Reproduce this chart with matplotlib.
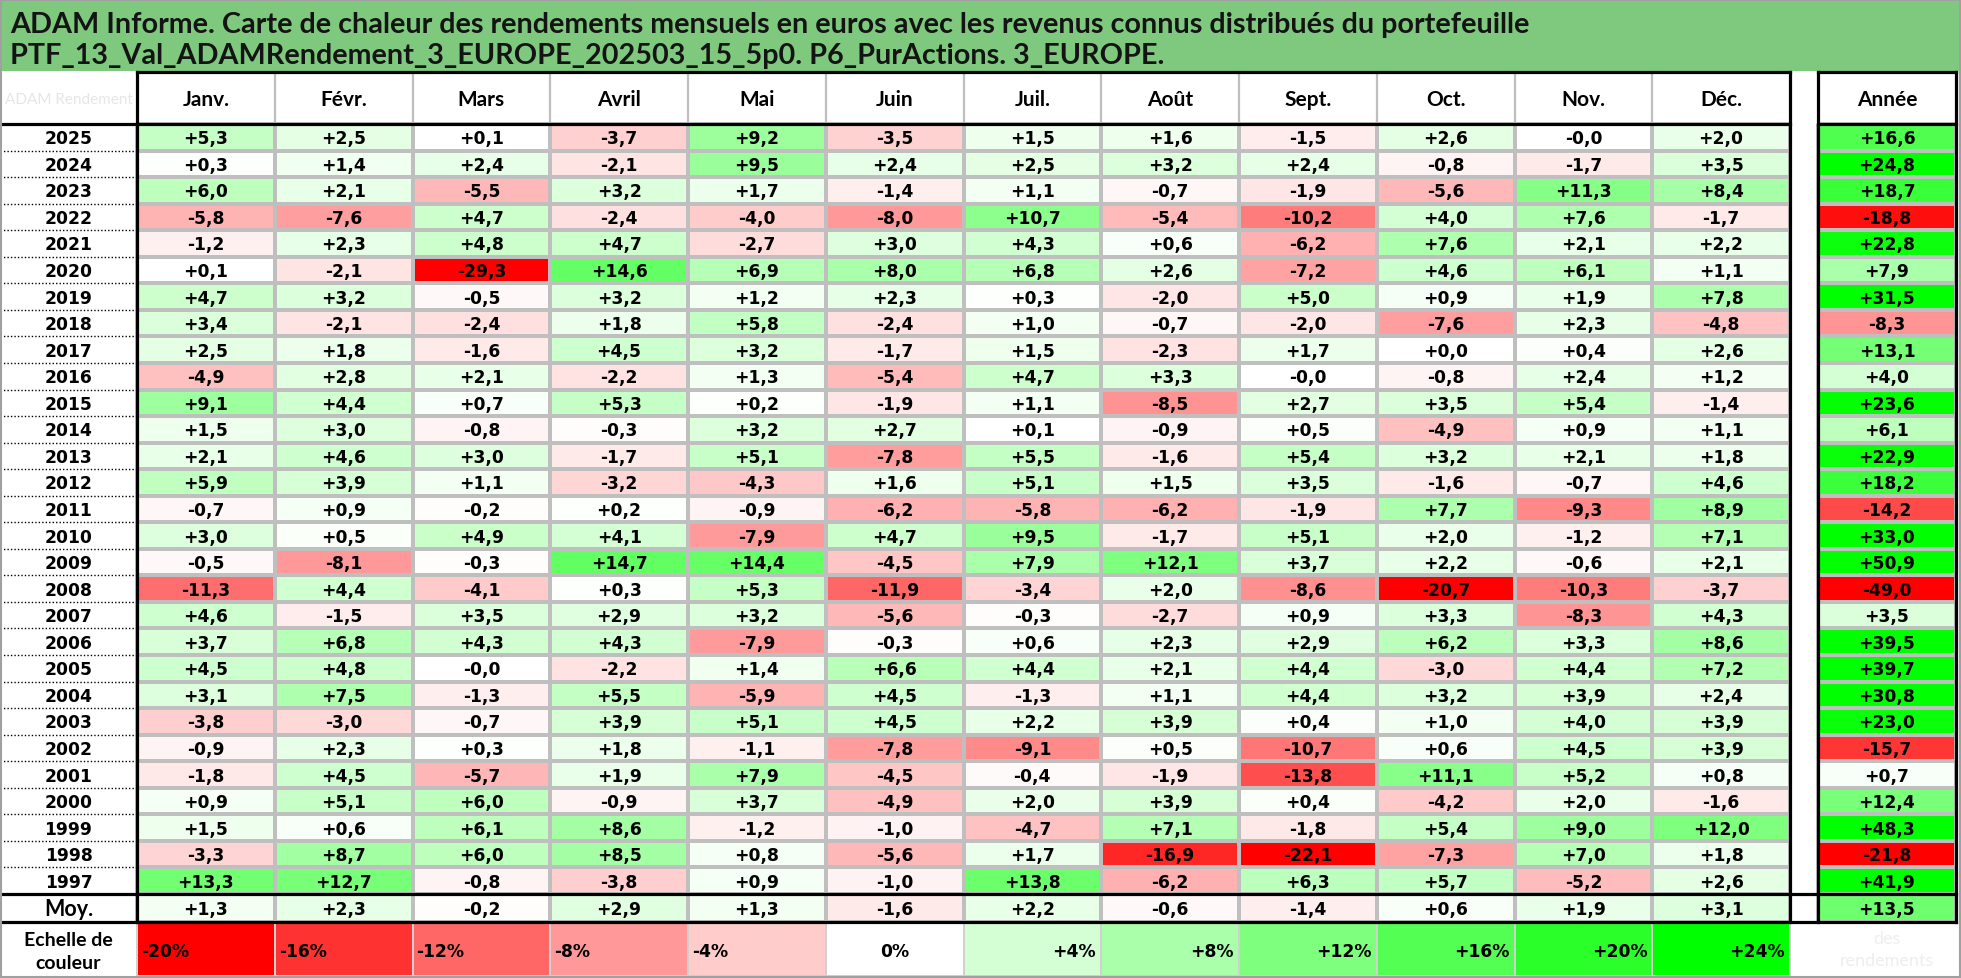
import numpy as np
import matplotlib
matplotlib.use("Agg")
import matplotlib.pyplot as plt
from matplotlib.colors import LinearSegmentedColormap, TwoSlopeNorm
from matplotlib.patches import Rectangle

# ---------------- data ----------------
title_line1 = ("ADAM Informe. Carte de chaleur des rendements mensuels en euros avec "
               "les revenus connus distribués du portefeuille")
title_line2 = "PTF_13_Val_ADAMRendement_3_EUROPE_202503_15_5p0. P6_PurActions. 3_EUROPE."
months = ["Janv.", "Févr.", "Mars", "Avril", "Mai", "Juin", "Juil.", "Août",
          "Sept.", "Oct.", "Nov.", "Déc."]
years = [2025, 2024, 2023, 2022, 2021, 2020, 2019, 2018, 2017, 2016, 2015, 2014,
         2013, 2012, 2011, 2010, 2009, 2008, 2007, 2006, 2005, 2004, 2003, 2002,
         2001, 2000, 1999, 1998, 1997]

y2025 = [5.3, 2.5, 0.1, -3.7, 9.2, -3.5, 1.5, 1.6, -1.5, 2.6, -0.0, 2.0]
y2024 = [0.3, 1.4, 2.4, -2.1, 9.5, 2.4, 2.5, 3.2, 2.4, -0.8, -1.7, 3.5]
y2023 = [6.0, 2.1, -5.5, 3.2, 1.7, -1.4, 1.1, -0.7, -1.9, -5.6, 11.3, 8.4]
y2022 = [-5.8, -7.6, 4.7, -2.4, -4.0, -8.0, 10.7, -5.4, -10.2, 4.0, 7.6, -1.7]
y2021 = [-1.2, 2.3, 4.8, 4.7, -2.7, 3.0, 4.3, 0.6, -6.2, 7.6, 2.1, 2.2]
y2020 = [0.1, -2.1, -29.3, 14.6, 6.9, 8.0, 6.8, 2.6, -7.2, 4.6, 6.1, 1.1]
y2019 = [4.7, 3.2, -0.5, 3.2, 1.2, 2.3, 0.3, -2.0, 5.0, 0.9, 1.9, 7.8]
y2018 = [3.4, -2.1, -2.4, 1.8, 5.8, -2.4, 1.0, -0.7, -2.0, -7.6, 2.3, -4.8]
y2017 = [2.5, 1.8, -1.6, 4.5, 3.2, -1.7, 1.5, -2.3, 1.7, 0.0, 0.4, 2.6]
y2016 = [-4.9, 2.8, 2.1, -2.2, 1.3, -5.4, 4.7, 3.3, -0.0, -0.8, 2.4, 1.2]
y2015 = [9.1, 4.4, 0.7, 5.3, 0.2, -1.9, 1.1, -8.5, 2.7, 3.5, 5.4, -1.4]
y2014 = [1.5, 3.0, -0.8, -0.3, 3.2, 2.7, 0.1, -0.9, 0.5, -4.9, 0.9, 1.1]
y2013 = [2.1, 4.6, 3.0, -1.7, 5.1, -7.8, 5.5, -1.6, 5.4, 3.2, 2.1, 1.8]
y2012 = [5.9, 3.9, 1.1, -3.2, -4.3, 1.6, 5.1, 1.5, 3.5, -1.6, -0.7, 4.6]
y2011 = [-0.7, 0.9, -0.2, 0.2, -0.9, -6.2, -5.8, -6.2, -1.9, 7.7, -9.3, 8.9]
y2010 = [3.0, 0.5, 4.9, 4.1, -7.9, 4.7, 9.5, -1.7, 5.1, 2.0, -1.2, 7.1]
y2009 = [-0.5, -8.1, -0.3, 14.7, 14.4, -4.5, 7.9, 12.1, 3.7, 2.2, -0.6, 2.1]
y2008 = [-11.3, 4.4, -4.1, 0.3, 5.3, -11.9, -3.4, 2.0, -8.6, -20.7, -10.3, -3.7]
y2007 = [4.6, -1.5, 3.5, 2.9, 3.2, -5.6, -0.3, -2.7, 0.9, 3.3, -8.3, 4.3]
y2006 = [3.7, 6.8, 4.3, 4.3, -7.9, -0.3, 0.6, 2.3, 2.9, 6.2, 3.3, 8.6]
y2005 = [4.5, 4.8, -0.0, -2.2, 1.4, 6.6, 4.4, 2.1, 4.4, -3.0, 4.4, 7.2]
y2004 = [3.1, 7.5, -1.3, 5.5, -5.9, 4.5, -1.3, 1.1, 4.4, 3.2, 3.9, 2.4]
y2003 = [-3.8, -3.0, -0.7, 3.9, 5.1, 4.5, 2.2, 3.9, 0.4, 1.0, 4.0, 3.9]
y2002 = [-0.9, 2.3, 0.3, 1.8, -1.1, -7.8, -9.1, 0.5, -10.7, 0.6, 4.5, 3.9]
y2001 = [-1.8, 4.5, -5.7, 1.9, 7.9, -4.5, -0.4, -1.9, -13.8, 11.1, 5.2, 0.8]
y2000 = [0.9, 5.1, 6.0, -0.9, 3.7, -4.9, 2.0, 3.9, 0.4, -4.2, 2.0, -1.6]
y1999 = [1.5, 0.6, 6.1, 8.6, -1.2, -1.0, -4.7, 7.1, -1.8, 5.4, 9.0, 12.0]
y1998 = [-3.3, 8.7, 6.0, 8.5, 0.8, -5.6, 1.7, -16.9, -22.1, -7.3, 7.0, 1.8]
y1997 = [13.3, 12.7, -0.8, -3.8, 0.9, -1.0, 13.8, -6.2, 6.3, 5.7, -5.2, 2.6]

annual = [16.6, 24.8, 18.7, -18.8, 22.8, 7.9, 31.5, -8.3, 13.1, 4.0, 23.6, 6.1,
          22.9, 18.2, -14.2, 33.0, 50.9, -49.0, 3.5, 39.5, 39.7, 30.8, 23.0, -15.7,
          0.7, 12.4, 48.3, -21.8, 41.9]
moy_monthly = [1.3, 2.3, -0.2, 2.9, 1.3, -1.6, 2.2, -0.6, -1.4, 0.6, 1.9, 3.1]
moy_annual = 13.5
scale_values = [-20, -16, -12, -8, -4, 0, 4, 8, 12, 16, 20, 24]

monthly_rows = [y2025, y2024, y2023, y2022, y2021, y2020, y2019, y2018, y2017,
                y2016, y2015, y2014, y2013, y2012, y2011, y2010, y2009, y2008,
                y2007, y2006, y2005, y2004, y2003, y2002, y2001, y2000, y1999,
                y1998, y1997]

# ---------------- layout ----------------
W, H = 1961, 979
TITLE_H = 72
HDR_TOP, HDR_BOT = 73, 125
MOY_TOP, MOY_BOT = 895, 923
SCALE_BOT = 977
X_YEAR_R = 137
X_DEC_R = 1790
X_ANN_L, X_ANN_R = 1818, 1956
n_rows = len(years)
ROW_H = (MOY_TOP - HDR_BOT) / n_rows
COL_W = (X_DEC_R - X_YEAR_R) / 12

NUM_FONT = "DejaVu Sans"
LBL_FONT = "Lato"
NUM_FS = 12.3
GRID = "#BFBFBF"
THICK = 2.3

cmap = LinearSegmentedColormap.from_list("rg", ["#FF0000", "#FFFFFF", "#00FF00"])
norm = TwoSlopeNorm(vmin=-20, vcenter=0, vmax=24)


def fmt(v):
    return f"{v:+.1f}".replace(".", ",")


fig = plt.figure(figsize=(W / 100, H / 100), dpi=100)
ax = fig.add_axes([0, 0, 1, 1])
ax.set_xlim(0, W)
ax.set_ylim(H, 0)
ax.axis("off")

# title band
ax.add_patch(Rectangle((0, 0), W, TITLE_H, facecolor="#7FC97F", edgecolor="none", zorder=0))
t1 = ax.text(10, 25, title_line1, fontfamily=LBL_FONT, fontweight="bold",
             fontsize=18, va="center", ha="left", color="#141414")
t2 = ax.text(10, 56, title_line2, fontfamily=LBL_FONT, fontweight="bold",
             fontsize=18, va="center", ha="left", color="#141414")
fig.canvas.draw()
r = fig.canvas.get_renderer()
w = t1.get_window_extent(r).width
fs = 18 * (1523 / w)
t1.set_fontsize(fs)
t2.set_fontsize(fs)

# heat map cells (months + Moy)
data = np.array(monthly_rows + [moy_monthly], dtype=float)
x_edges = X_YEAR_R + COL_W * np.arange(13)
y_edges = np.append(HDR_BOT + ROW_H * np.arange(n_rows + 1), MOY_BOT)
ax.pcolormesh(x_edges, y_edges, data, cmap=cmap, norm=norm,
              edgecolors=GRID, linewidth=1.6, zorder=1)

ann = np.array(annual + [moy_annual], dtype=float).reshape(-1, 1)
ax.pcolormesh([X_ANN_L, X_ANN_R], y_edges, ann, cmap=cmap, norm=norm,
              edgecolors=GRID, linewidth=1.6, zorder=1)

# colour scale row
ax.pcolormesh(x_edges, [MOY_BOT, SCALE_BOT], np.array([scale_values], dtype=float),
              cmap=cmap, norm=norm, edgecolors="#D0D0D0", linewidth=1.2, zorder=1)

# header grid lines
for xe in x_edges[1:-1]:
    ax.plot([xe, xe], [HDR_TOP, HDR_BOT], color=GRID, lw=1.6, zorder=2)

# cell texts
yc = (y_edges[:-1] + y_edges[1:]) / 2
xc = (x_edges[:-1] + x_edges[1:]) / 2
for i in range(data.shape[0]):
    for j in range(12):
        ax.text(xc[j], yc[i] + 1, fmt(data[i, j]), ha="center", va="center",
                fontfamily=NUM_FONT, fontweight="bold", fontsize=NUM_FS, zorder=3)
    ax.text((X_ANN_L + X_ANN_R) / 2, yc[i] + 1, fmt(ann[i, 0]), ha="center",
            va="center", fontfamily=NUM_FONT, fontweight="bold", fontsize=NUM_FS, zorder=3)

# year labels
for i, yr in enumerate(years):
    ax.text(X_YEAR_R / 2, yc[i] + 1, str(yr), ha="center", va="center",
            fontfamily=NUM_FONT, fontweight="bold", fontsize=NUM_FS, zorder=3)
ax.text(X_YEAR_R / 2, yc[-1] + 1, "Moy.", ha="center", va="center",
        fontfamily=LBL_FONT, fontweight="bold", fontsize=15.5, zorder=3)

# dotted separators in the year column
for ye in y_edges[1:n_rows]:
    ax.plot([0, X_YEAR_R], [ye, ye], color="black", lw=1.0, ls=(0, (1, 1.5)), zorder=2)

# headers
hy = (HDR_TOP + HDR_BOT) / 2
for j, m in enumerate(months):
    ax.text(xc[j], hy + 1, m, ha="center", va="center", fontfamily=LBL_FONT,
            fontweight="bold", fontsize=15, zorder=3)
ax.text((X_ANN_L + X_ANN_R) / 2, hy + 1, "Année", ha="center", va="center",
        fontfamily=LBL_FONT, fontweight="bold", fontsize=15, zorder=3)

# faint (almost invisible) labels
ax.text(X_YEAR_R / 2, hy + 1, "ADAM Rendement", ha="center", va="center",
        fontfamily=LBL_FONT, fontsize=11, color="#E6E6E6", zorder=2)
ax.text((X_ANN_L + X_ANN_R) / 2, (MOY_BOT + SCALE_BOT) / 2, "des\nrendements",
        ha="center", va="center", fontfamily=LBL_FONT, fontsize=13,
        color="#EEEEEE", linespacing=1.5, zorder=2)

# colour scale labels
sy = (MOY_BOT + SCALE_BOT) / 2 + 2
for j, v in enumerate(scale_values):
    lab = f"{v:+d}%" if v != 0 else "0%"
    if v < 0:
        ax.text(x_edges[j] + 4, sy, lab, ha="left", va="center", fontfamily=NUM_FONT,
                fontweight="bold", fontsize=NUM_FS, zorder=3)
    elif v == 0:
        ax.text(xc[j], sy, lab, ha="center", va="center", fontfamily=NUM_FONT,
                fontweight="bold", fontsize=NUM_FS, zorder=3)
    else:
        ax.text(x_edges[j + 1] - 5, sy, lab, ha="right", va="center", fontfamily=NUM_FONT,
                fontweight="bold", fontsize=NUM_FS, zorder=3)
ax.text(X_YEAR_R / 2, sy, "Echelle de\ncouleur", ha="center", va="center",
        fontfamily=LBL_FONT, fontweight="bold", fontsize=14, linespacing=1.45, zorder=3)

# thick black borders
def hline(y, x0, x1):
    ax.plot([x0, x1], [y, y], color="black", lw=THICK, solid_capstyle="projecting", zorder=4)


def vline(x, y0, y1):
    ax.plot([x, x], [y0, y1], color="black", lw=THICK, solid_capstyle="projecting", zorder=4)


hline(HDR_TOP, X_YEAR_R, X_DEC_R)
hline(HDR_BOT, 0, X_DEC_R)
hline(HDR_BOT, X_ANN_L, X_ANN_R)
hline(MOY_TOP, 0, X_ANN_R)
hline(MOY_BOT, 0, X_ANN_R)
vline(X_YEAR_R, HDR_TOP, MOY_BOT)
vline(X_DEC_R, HDR_TOP, MOY_BOT)
hline(HDR_TOP, X_ANN_L, X_ANN_R)
vline(X_ANN_L, HDR_TOP, MOY_BOT)
vline(X_ANN_R, HDR_TOP, MOY_BOT)

# outer frame
ax.add_patch(Rectangle((1, 1), W - 2, H - 2, facecolor="none", edgecolor="#A0A0A0",
                       lw=1.5, zorder=5))

fig.savefig("out.png", dpi=100)
